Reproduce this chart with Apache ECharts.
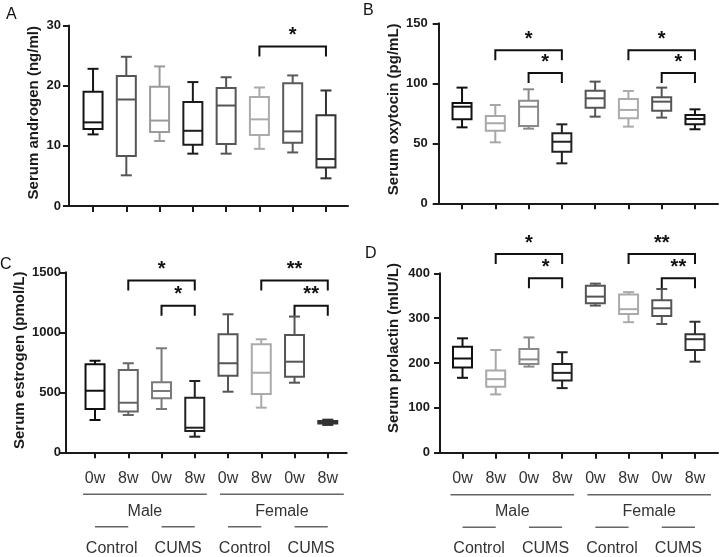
<!DOCTYPE html>
<html>
<head>
<meta charset="utf-8">
<script src="https://cdn.jsdelivr.net/npm/echarts@6/dist/echarts.min.js"></script>
<style>
  html, body { margin: 0; padding: 0; background: #fff; }
  #chart { width: 722px; height: 557px; }
</style>
</head>
<body>
<div id="chart"></div>
<script>
// categories
const weeks = ['0w', '8w', '0w', '8w', '0w', '8w', '0w', '8w'];
const sexLabels = ['Male', 'Female'];
const groupLabels = ['Control', 'CUMS', 'Control', 'CUMS'];

// box values: [min, Q1, median, Q3, max]
const androgen = [
    [11.9, 12.8, 13.9, 19.0, 22.8],
    [5.1, 8.3, 17.7, 21.6, 24.8],
    [10.8, 12.3, 14.2, 19.8, 23.2],
    [8.7, 10.2, 12.5, 17.3, 20.6],
    [8.7, 10.3, 16.7, 19.6, 21.4],
    [9.5, 11.8, 14.4, 18.1, 19.7],
    [8.9, 10.5, 12.4, 20.4, 21.7],
    [4.6, 6.4, 7.8, 15.1, 19.2],
];
const oxytocin = [
    [63.3, 70.0, 80.5, 83.5, 96.4],
    [50.8, 60.5, 66.7, 72.8, 81.9],
    [62.2, 64.4, 80.5, 85.5, 95.0],
    [33.3, 43.0, 51.3, 58.3, 65.8],
    [72.2, 79.7, 87.5, 93.8, 101.4],
    [63.9, 70.8, 77.8, 86.9, 93.6],
    [71.4, 77.2, 84.7, 88.3, 96.4],
    [61.7, 65.8, 70.3, 73.6, 78.3],
];
const estrogen = [
    [269, 361, 513, 733, 763],
    [311, 339, 413, 686, 742],
    [361, 450, 511, 583, 867],
    [130, 178, 205, 455, 594],
    [505, 638, 742, 983, 1150],
    [372, 486, 663, 900, 942],
    [580, 630, 755, 978, 1131],
    [228, 240, 250, 260, 272],
];
const prolactin = [
    [167, 190, 210, 236, 255],
    [130, 147, 164, 183, 229],
    [192, 198, 208, 231, 257],
    [144, 161, 178, 198, 224],
    [328, 333, 348, 372, 377],
    [291, 309, 320, 353, 358],
    [287, 305, 322, 340, 365],
    [203, 229, 253, 264, 292],
];

// significance brackets: [from, to, height, mark]
const androgenSig = [[5, 7, 26.5, '*']];
const oxytocinSig = [[1, 3, 127.5, '*'], [2, 3, 108.5, '*'], [5, 7, 127.5, '*'], [6, 7, 108.5, '*']];
const estrogenSig = [[1, 3, 1432, '*'], [2, 3, 1222, '*'], [5, 7, 1432, '**'], [6, 7, 1222, '**']];
const prolactinSig = [[1, 3, 443, '*'], [2, 3, 389, '*'], [5, 7, 443, '**'], [6, 7, 389, '**']];

// y ticks
const androgenTicks = { max: 30, step: 10 };
const oxytocinTicks = { max: 150, step: 50 };
const estrogenTicks = { max: 1500, step: 500 };
const prolactinTicks = { max: 400, step: 100 };

// box stroke colours
const androgenColors = ['#151515', '#555', '#9a9a9a', '#1c1c1c', '#555', '#ababab', '#5a5a5a', '#333'];
const oxytocinColors = ['#111', '#a8a8a8', '#8a8a8a', '#222', '#555', '#ababab', '#555', '#151515'];
const estrogenColors = ['#111', '#666', '#7a7a7a', '#222', '#555', '#aaa', '#555', '#333'];
const prolactinColors = ['#111', '#a8a8a8', '#8a8a8a', '#222', '#555', '#aaa', '#555', '#333'];

const FONT = '"Liberation Sans", Arial, Helvetica, sans-serif';
const INK = '#1a1a1a';

const panels = [
    { name: 'Serum androgen (ng/ml)', data: androgen, colors: androgenColors, sig: androgenSig, ticks: androgenTicks,
      frame: { left: 69, right: 374, top: 25.5, bottom: 351 }, boxLeft: 76.4, boxRight: 379.4,
      labelMargin: 8, nameGap: 28, namePad: 6, groups: false },
    { name: 'Serum oxytocin (pg/mL)', data: oxytocin, colors: oxytocinColors, sig: oxytocinSig, ticks: oxytocinTicks,
      frame: { left: 438.7, right: 4, top: 23.3, bottom: 353.7 }, boxLeft: 445.4, boxRight: 10.4,
      labelMargin: 11, nameGap: 37, namePad: 8, groups: false },
    { name: 'Serum estrogen (pmol/L)', data: estrogen, colors: estrogenColors, sig: estrogenSig, ticks: estrogenTicks,
      frame: { left: 66, right: 375.3, top: 272.3, bottom: 104.7 }, boxLeft: 78.4, boxRight: 377.6,
      labelMargin: 5, nameGap: 39, namePad: 4, groups: true },
    { name: 'Serum prolactin (mIU/L)', data: prolactin, colors: prolactinColors, sig: prolactinSig, ticks: prolactinTicks,
      frame: { left: 440, right: 4, top: 273.3, bottom: 104.3 }, boxLeft: 445.9, boxRight: 10.4,
      labelMargin: 10, nameGap: 39, namePad: 30, groups: true },
];

const line = (color, w) => ({ stroke: color, lineWidth: w, fill: 'none' });

const renderBox = (colors) => (params, api) => {
    const i = api.value(0);
    const lo = api.coord([i, api.value(1)]);
    const q1 = api.coord([i, api.value(2)]);
    const md = api.coord([i, api.value(3)]);
    const q3 = api.coord([i, api.value(4)]);
    const hi = api.coord([i, api.value(5)]);
    const x = md[0];
    const hw = 9.5; // half box
    const cw = 5.5; // half cap
    const c = colors[params.dataIndex];
    return {
        type: 'group',
        children: [
            { type: 'line', shape: { x1: x, y1: hi[1], x2: x, y2: q3[1] }, style: line(c, 2) },
            { type: 'line', shape: { x1: x, y1: q1[1], x2: x, y2: lo[1] }, style: line(c, 2) },
            { type: 'line', shape: { x1: x - cw, y1: hi[1], x2: x + cw, y2: hi[1] }, style: line(c, 2) },
            { type: 'line', shape: { x1: x - cw, y1: lo[1], x2: x + cw, y2: lo[1] }, style: line(c, 2) },
            { type: 'rect', shape: { x: x - hw, y: q3[1], width: hw * 2, height: q1[1] - q3[1] }, style: line(c, 2) },
            { type: 'line', shape: { x1: x - hw, y1: md[1], x2: x + hw, y2: md[1] }, style: line(c, 2) },
        ],
    };
};

const renderSig = (sig) => (params, api) => {
    const a = api.coord([api.value(0), api.value(2)]);
    const b = api.coord([api.value(1), api.value(2)]);
    const leg = 10;
    return {
        type: 'group',
        children: [
            {
                type: 'polyline',
                shape: { points: [[a[0], a[1] + leg], [a[0], a[1]], [b[0], b[1]], [b[0], b[1] + leg]] },
                style: line('#111', 2),
            },
            {
                type: 'text',
                x: (a[0] + b[0]) / 2,
                y: a[1] - 1,
                style: { text: sig[params.dataIndex][3], fill: '#111', font: 'bold 20px ' + FONT, align: 'center', verticalAlign: 'bottom' },
            },
        ],
    };
};

// Male / Female row
const renderSex = (params, api) => {
    const k = params.dataIndex;
    const a = api.coord([api.value(0), 0]);
    const b = api.coord([api.value(1), 0]);
    const extL = k === 0 ? 12 : 8;
    const extR = k === 0 ? 12 : 16;
    const y0 = a[1];
    return {
        type: 'group',
        children: [
            { type: 'line', shape: { x1: a[0] - extL, y1: y0 + 42, x2: b[0] + extR, y2: y0 + 42 }, style: line('#666', 1.5) },
            {
                type: 'text', x: (a[0] - extL + b[0] + extR) / 2, y: y0 + 59,
                style: { text: sexLabels[k], fill: '#333', font: '16px ' + FONT, align: 'center', verticalAlign: 'middle' },
            },
        ],
    };
};

// Control / CUMS row
const renderGroup = (params, api) => {
    const k = params.dataIndex;
    const a = api.coord([api.value(0), 0]);
    const b = api.coord([api.value(1), 0]);
    const y0 = a[1];
    return {
        type: 'group',
        children: [
            { type: 'line', shape: { x1: a[0], y1: y0 + 74.5, x2: b[0], y2: y0 + 74.5 }, style: line('#666', 1.5) },
            {
                type: 'text', x: (a[0] + b[0]) / 2, y: y0 + 96,
                style: { text: groupLabels[k], fill: '#333', font: '16px ' + FONT, align: 'center', verticalAlign: 'middle' },
            },
        ],
    };
};

const grid = [];
const xAxis = [];
const yAxis = [];
const series = [];

panels.forEach((p, k) => {
    const f = p.frame;
    const frameIdx = k * 2;
    const boxIdx = k * 2 + 1;
    grid.push({ left: f.left, right: f.right, top: f.top, bottom: f.bottom });
    grid.push({ left: p.boxLeft, right: p.boxRight, top: f.top, bottom: f.bottom });

    xAxis.push({
        gridIndex: frameIdx, type: 'value', min: 0, max: 1,
        axisLine: { show: true, onZero: false, lineStyle: { color: INK, width: 2 } },
        axisTick: { show: false }, axisLabel: { show: false }, splitLine: { show: false },
    });
    xAxis.push({
        gridIndex: boxIdx, type: 'category', data: weeks,
        axisLine: { show: false, onZero: false },
        axisTick: { show: true, alignWithLabel: true, length: 6, lineStyle: { color: INK, width: 2 } },
        axisLabel: { show: p.groups, interval: 0, margin: 18, color: '#333', fontSize: 16, fontFamily: FONT },
        splitLine: { show: false },
    });
    yAxis.push({
        gridIndex: frameIdx, type: 'value', min: 0, max: p.ticks.max, interval: p.ticks.step,
        name: p.name, nameLocation: 'middle', nameGap: p.nameGap,
        nameTextStyle: { color: INK, fontSize: 15, fontWeight: 'bold', fontFamily: FONT, padding: [0, 0, 0, p.namePad] },
        axisLine: { show: true, onZero: false, lineStyle: { color: INK, width: 2 } },
        axisTick: { show: true, length: 6, lineStyle: { color: INK, width: 2 } },
        axisLabel: {
            margin: p.labelMargin, color: INK, fontSize: 13, fontWeight: 'bold', fontFamily: FONT,
            formatter: (v) => String(v),
        },
        splitLine: { show: false },
    });
    yAxis.push({ gridIndex: boxIdx, type: 'value', min: 0, max: p.ticks.max, show: false });

    series.push({
        type: 'custom', xAxisIndex: boxIdx, yAxisIndex: boxIdx,
        renderItem: renderBox(p.colors),
        encode: { x: 0, y: [1, 2, 3, 4, 5] },
        data: p.data.map((d, i) => [i].concat(d)),
        silent: true,
    });
    series.push({
        type: 'custom', xAxisIndex: boxIdx, yAxisIndex: boxIdx,
        renderItem: renderSig(p.sig), clip: false,
        encode: { x: [0, 1], y: 2 },
        data: p.sig.map((s) => [s[0], s[1], s[2]]),
        silent: true,
    });
    if (p.groups) {
        series.push({
            type: 'custom', xAxisIndex: boxIdx, yAxisIndex: boxIdx,
            renderItem: renderSex, clip: false,
            encode: { x: [0, 1] },
            data: sexLabels.map((s, i) => [i * 4, i * 4 + 3]),
            silent: true,
        });
        series.push({
            type: 'custom', xAxisIndex: boxIdx, yAxisIndex: boxIdx,
            renderItem: renderGroup, clip: false,
            encode: { x: [0, 1] },
            data: groupLabels.map((s, i) => [i * 2, i * 2 + 1]),
            silent: true,
        });
    }
});

const letter = (text, left, top) => ({
    type: 'text', left, top,
    style: { text, fill: '#111', font: '16px ' + FONT },
});

const myChart = echarts.init(document.getElementById('chart'));
myChart.setOption({
    animation: false,
    backgroundColor: '#fff',
    graphic: [letter('A', 6, 7), letter('B', 363, 3), letter('C', 0, 257), letter('D', 365, 246)],
    grid,
    xAxis,
    yAxis,
    series,
});
window.addEventListener('resize', () => myChart.resize());
</script>
</body>
</html>
